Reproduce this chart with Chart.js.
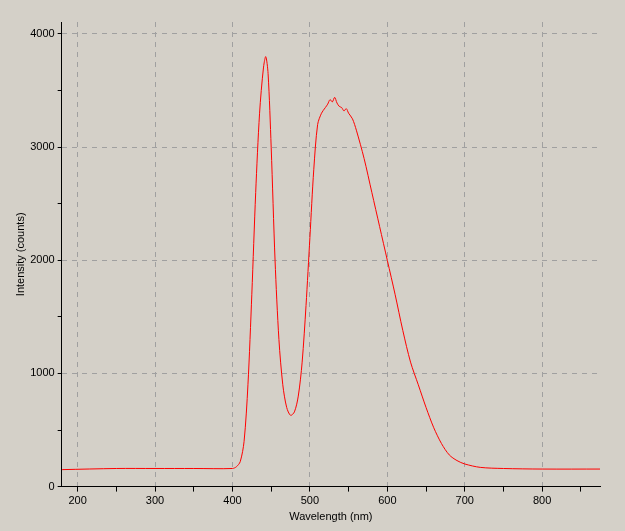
<!DOCTYPE html>
<html><head><script src="https://cdn.jsdelivr.net/npm/chart.js@4"></script>
<style>html,body{margin:0;background:#d4d0c8;}#w{width:625px;height:531px;}</style></head>
<body><div id="w"><canvas id="c"></canvas></div>
<script>
const wavelengths=[180,250,300,350,400,405,410,415,420,425,430,435,440,443,446,450,455,460,465,470,475,480,485,490,495,500,505,510,515,520,523,526,529,532,535,538,541,544,547,550,555,560,570,580,590,600,610,620,630,640,650,660,670,680,690,700,720,750,800,875];
const intensity=[150,160,160,160,160,175,220,400,900,1700,2600,3300,3700,3800,3650,3000,2000,1300,900,700,630,660,800,1100,1600,2200,2800,3200,3300,3350,3380,3420,3400,3440,3390,3360,3350,3320,3340,3300,3250,3150,2900,2600,2300,2000,1700,1380,1100,900,700,520,380,280,230,200,170,160,155,155];
const xTicks=[200,300,400,500,600,700,800];
const yTicks=[0,1000,2000,3000,4000];
const pts=wavelengths.map((x,i)=>({x,y:intensity[i]}));
new Chart(document.getElementById('c'),{type:'scatter',
data:{datasets:[{data:pts,showLine:true,borderColor:'#ff0000',borderWidth:1,pointRadius:0,tension:0.3}]},
options:{responsive:true,maintainAspectRatio:false,animation:false,
layout:{padding:{top:22,right:25,left:14,bottom:7}},
plugins:{legend:{display:false},tooltip:{enabled:false}},
scales:{
x:{type:'linear',min:179.4,max:874.7,afterBuildTicks:a=>{a.ticks=[];for(let v=200;v<=850;v+=50)a.ticks.push({value:v});},
 border:{color:'#000',dash:[5,5]},
 grid:{color:c=>xTicks.includes(c.tick.value)?'#a0a0a0':'rgba(0,0,0,0)',tickColor:'#000',tickLength:5,drawTicks:true},
 ticks:{color:'#000',font:{family:'Liberation Sans',size:11},maxRotation:0,autoSkip:false,callback:v=>xTicks.includes(v)?v:''},
 title:{display:true,text:'Wavelength (nm)',color:'#000',font:{family:'Liberation Sans',size:11},padding:0}},
y:{min:0,max:4106,afterBuildTicks:a=>{a.ticks=[];for(let v=0;v<=4000;v+=500)a.ticks.push({value:v});},
 border:{color:'#000',dash:[5,5]},
 grid:{color:c=>(c.tick.value>0&&yTicks.includes(c.tick.value))?'#a0a0a0':'rgba(0,0,0,0)',tickColor:'#000',tickLength:4},
 ticks:{color:'#000',font:{family:'Liberation Sans',size:11},autoSkip:false,callback:v=>yTicks.includes(v)?v:''},
 title:{display:true,text:'Intensity (counts)',color:'#000',font:{family:'Liberation Sans',size:11},padding:0}}}}});
</script></body></html>
